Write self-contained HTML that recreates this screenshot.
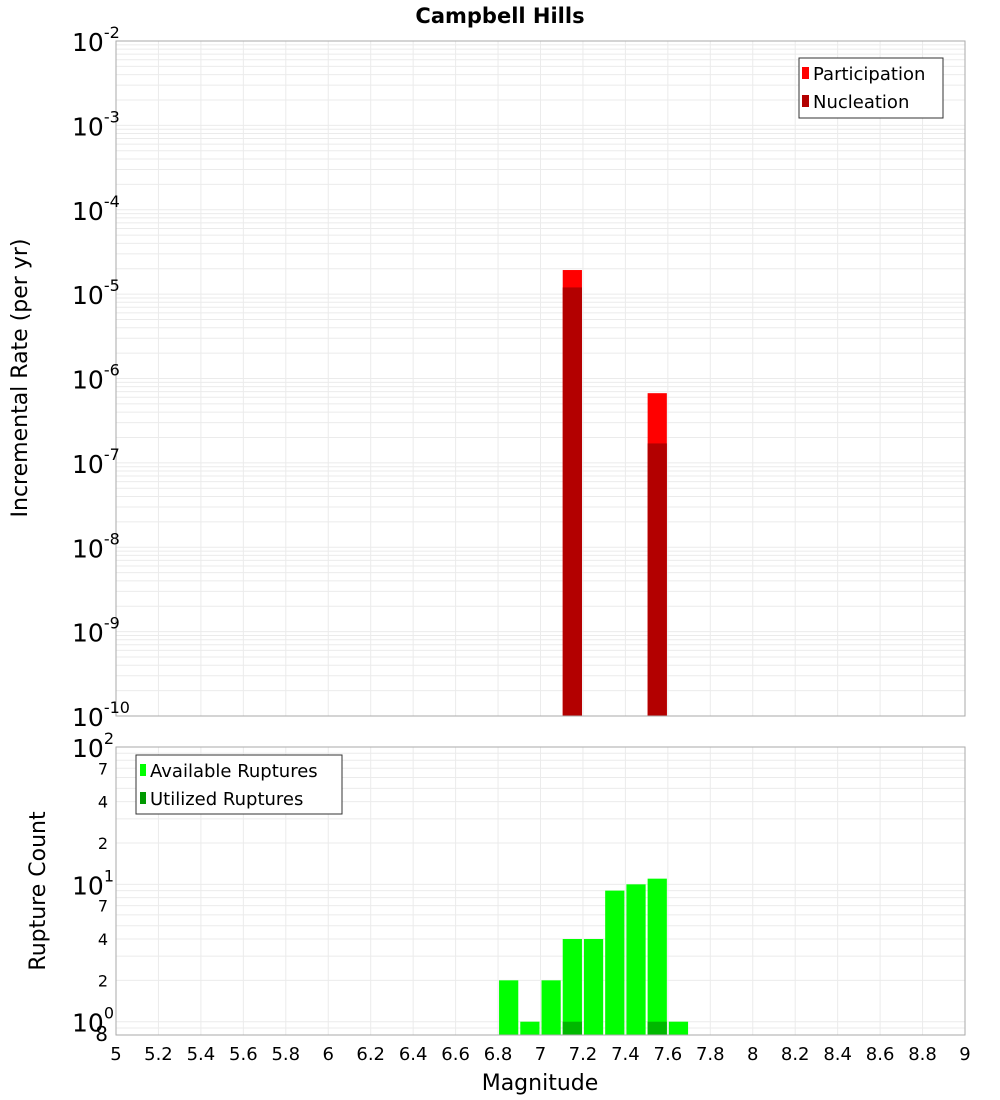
<!DOCTYPE html>
<html><head><meta charset="utf-8"><style>
body{margin:0;background:#fff;}
svg{display:block;font-family:"DejaVu Sans","Liberation Sans",sans-serif;}
</style></head><body>
<svg id="c" width="1000" height="1100" xmlns="http://www.w3.org/2000/svg">
<text x="500" y="23" text-anchor="middle" font-size="21" font-weight="bold">Campbell Hills</text>
<g id="grid"></g>
<g id="bars"></g>
<g id="axes"></g>
<text transform="translate(27,378) rotate(-90)" text-anchor="middle" font-size="22">Incremental Rate (per yr)</text>
<text transform="translate(45,891) rotate(-90)" text-anchor="middle" font-size="22">Rupture Count</text>
<text x="540" y="1090" text-anchor="middle" font-size="22">Magnitude</text>
<g>
<rect x="799" y="58" width="144" height="60" fill="#fff" stroke="#333"/>
<rect x="802" y="67" width="7" height="12" fill="#ff0000"/>
<text x="813" y="80" font-size="18">Participation</text>
<rect x="802" y="95" width="7" height="12" fill="#b30000"/>
<text x="813" y="108" font-size="18">Nucleation</text>
</g>
<g>
<rect x="136" y="755" width="206" height="59" fill="#fff" stroke="#333"/>
<rect x="140" y="764" width="6" height="12" fill="#00ff00"/>
<text x="150" y="777" font-size="18">Available Ruptures</text>
<rect x="140" y="792" width="6" height="12" fill="#009900"/>
<text x="150" y="805" font-size="18">Utilized Ruptures</text>
</g>
</svg>
<script>
const mags=[6.8,6.9,7.0,7.1,7.2,7.3,7.4,7.5,7.6];
const available=[2,1,2,4,4,9,10,11,1];
const utilizedMags=[7.1,7.5];
const utilized=[1,1];
const rateMags=[7.1,7.5];
const participation=[1.93e-5,6.7e-7];
const nucleation=[1.2e-5,1.7e-7];
const xTicks=[5,5.2,5.4,5.6,5.8,6,6.2,6.4,6.6,6.8,7,7.2,7.4,7.6,7.8,8,8.2,8.4,8.6,8.8,9];

const NS="http://www.w3.org/2000/svg";
const X0=116,X1=965;
const x=m=>X0+(m-5)/4*(X1-X0);
const T0=41,T1=716;
const yTop=v=>T0+(-2-Math.log10(v))/8*(T1-T0);
const B0=747,B1=1035;
const yBot=v=>B0+(2-Math.log10(v))/(2-Math.log10(0.8))*(B1-B0);
function el(tag,attrs,parent,txt){const e=document.createElementNS(NS,tag);for(const k in attrs)e.setAttribute(k,attrs[k]);if(txt!==undefined)e.textContent=txt;document.getElementById(parent).appendChild(e);return e;}
// grids
for(const t of xTicks){
  el('line',{x1:x(t),x2:x(t),y1:T0,y2:T1,stroke:'#ebebeb'},'grid');
  el('line',{x1:x(t),x2:x(t),y1:B0,y2:B1,stroke:'#ebebeb'},'grid');
}
for(let d=-10;d<-2;d++)for(let k=1;k<10;k++){const yy=yTop(k*Math.pow(10,d));el('line',{x1:X0,x2:X1,y1:yy,y2:yy,stroke:'#ebebeb'},'grid');}
for(let d=-1;d<2;d++)for(let k=1;k<10;k++){const v=k*Math.pow(10,d);if(v<0.8)continue;const yy=yBot(v);el('line',{x1:X0,x2:X1,y1:yy,y2:yy,stroke:'#ebebeb'},'grid');}
// bars
rateMags.forEach((m,i)=>{
  let r=el('rect',{x:x(m)+1,y:yTop(participation[i]),width:x(m+0.1)-x(m)-2,height:T1-yTop(participation[i]),fill:'#ff0000'},'bars');
  
  
  let n=el('rect',{x:x(m)+1,y:yTop(nucleation[i]),width:x(m+0.1)-x(m)-2,height:T1-yTop(nucleation[i]),fill:'#b30000'},'bars');
  
  
});
mags.forEach((m,i)=>{
  let r=el('rect',{x:x(m)+1,y:yBot(available[i]),width:x(m+0.1)-x(m)-2,height:B1-yBot(available[i]),fill:'#00ff00'},'bars');
  
  
});
utilizedMags.forEach((m,i)=>{
  let r=el('rect',{x:x(m)+1,y:yBot(utilized[i]),width:x(m+0.1)-x(m)-2,height:B1-yBot(utilized[i]),fill:'#00b800'},'bars');
  
  
});
// frames
el('rect',{x:X0,y:T0,width:X1-X0,height:T1-T0,fill:'none',stroke:'#aaa'},'axes');
el('rect',{x:X0,y:B0,width:X1-X0,height:B1-B0,fill:'none',stroke:'#aaa'},'axes');
// x tick labels
for(const t of xTicks){
  let tx=el('text',{x:x(t),y:1060,'text-anchor':'middle','font-size':18},'axes',String(Math.round(t*10)/10));
  
  
}
// top y labels
for(let d=-10;d<=-2;d++){
  const yy=yTop(Math.pow(10,d));
  let g=el('text',{x:72,y:yy+10,'font-size':25},'axes');
  
  
  g.innerHTML='10<tspan dy="-13" font-size="16">'+d+'</tspan>';
}
// bottom y labels
for(let d=0;d<=2;d++){
  const yy=yBot(Math.pow(10,d));
  let g=el('text',{x:72,y:yy+10,'font-size':25},'axes');
  
  
  g.innerHTML='10<tspan dy="-13" font-size="16">'+d+'</tspan>';
}
for(const v of [2,4,7,20,40,70,0.8]){
  const yy=yBot(v);
  let t=el('text',{x:v===0.8?108:108,y:yy+6,'text-anchor':'end','font-size':v===0.8?20:16},'axes',String(v<1?8:String(v)[0]));
  
  
}
</script>
</body></html>
